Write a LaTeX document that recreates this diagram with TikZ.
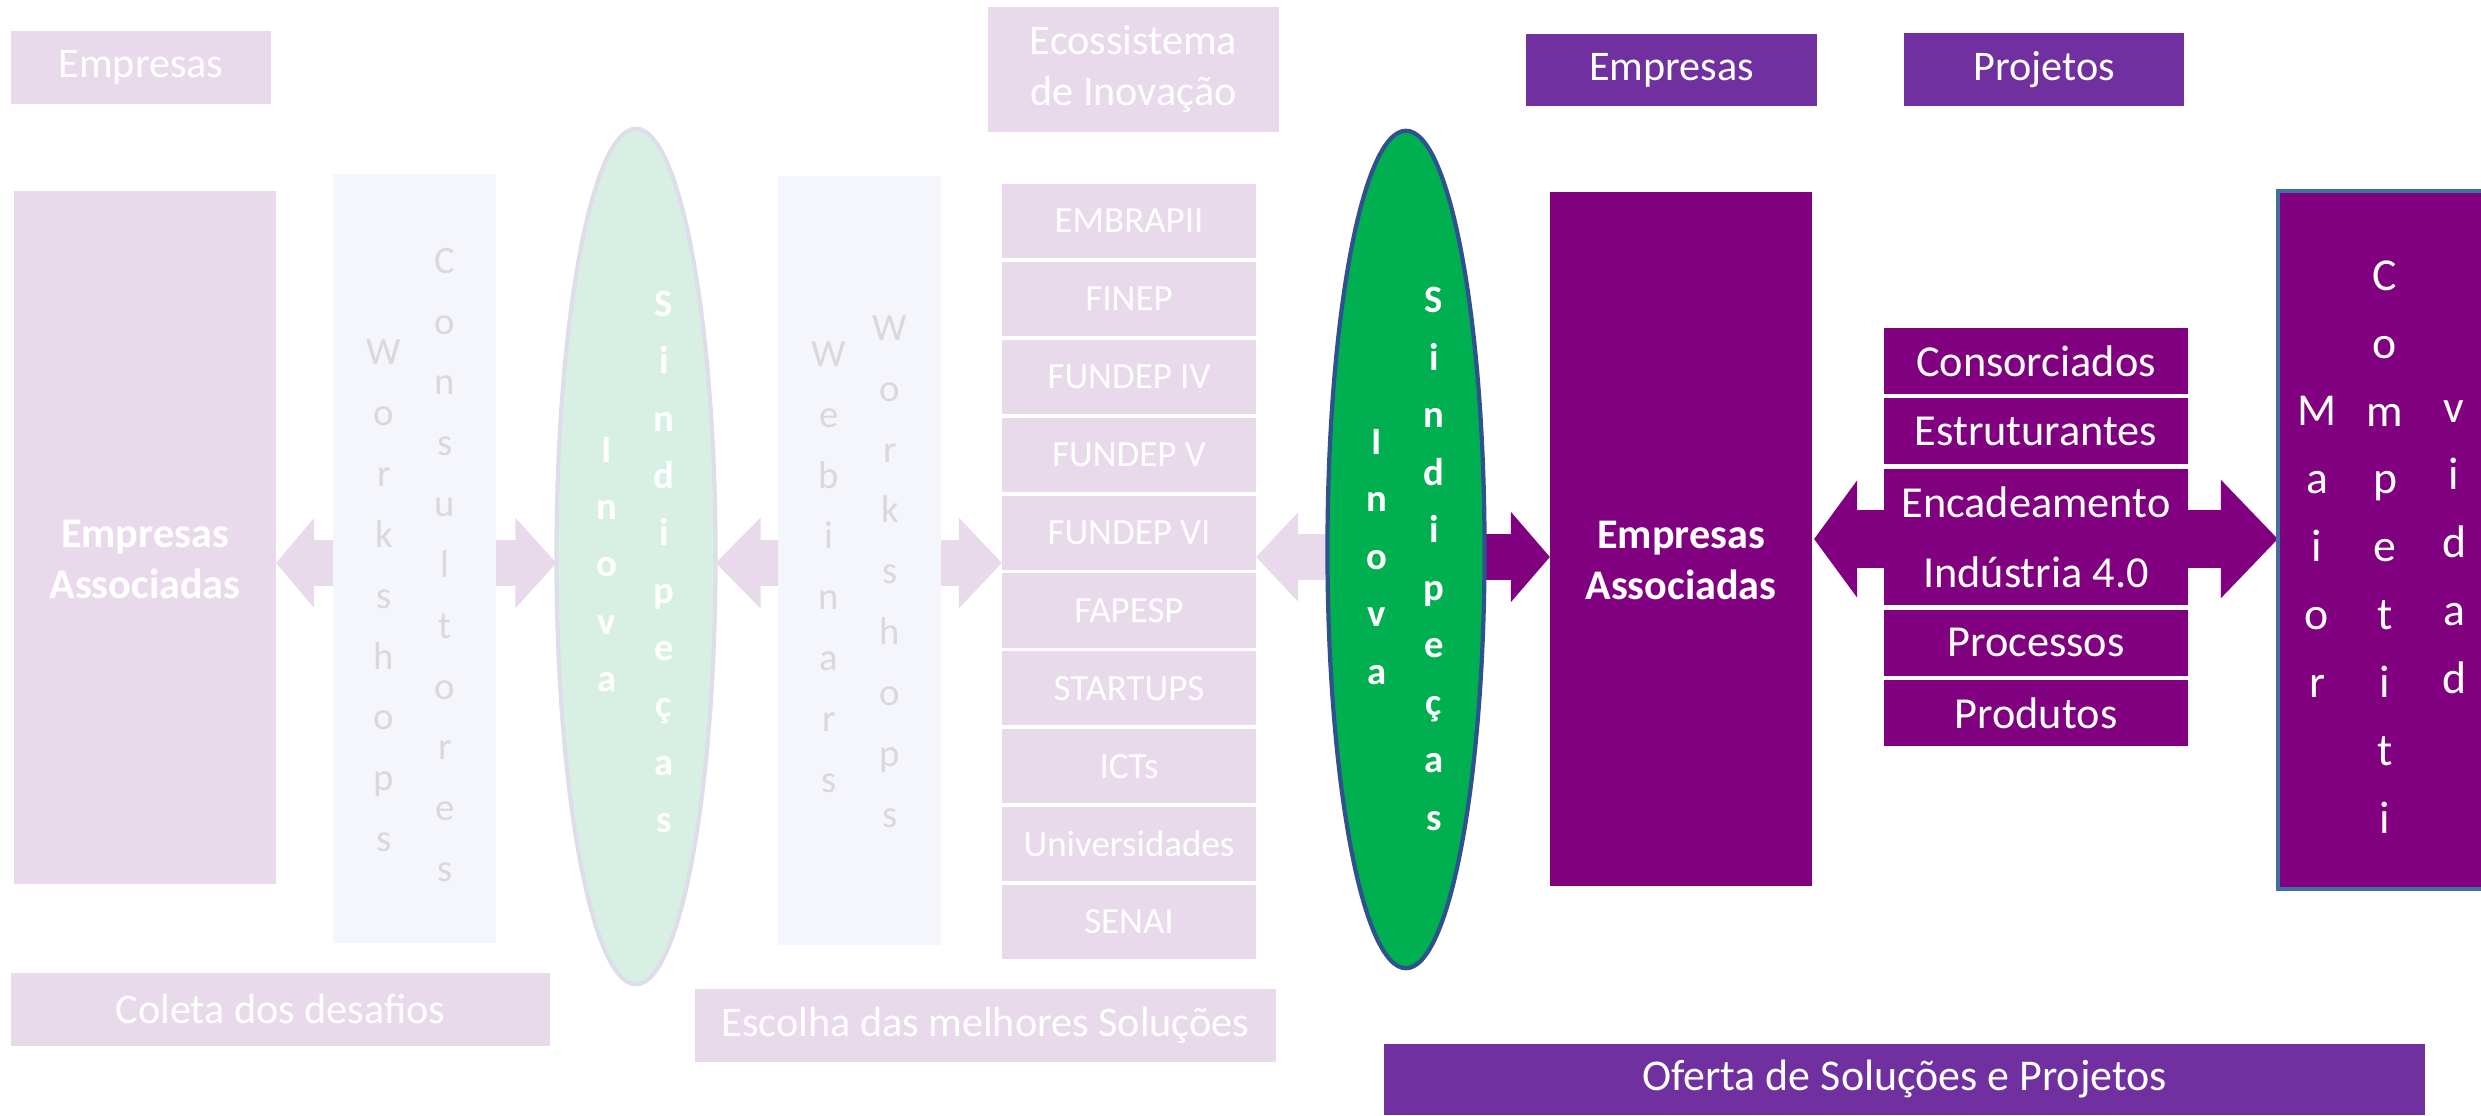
\documentclass[tikz,border=0pt]{standalone}
\usepackage{fontspec}
\setmainfont{Carlito}
\usetikzlibrary{arrows.meta,backgrounds,shapes.geometric}

\definecolor{fadepink}{HTML}{E8DAEB}
\definecolor{fadelilac}{HTML}{F5F5FC}
\definecolor{fadegray}{HTML}{D9D9D9}
\definecolor{fadegreen}{HTML}{D8F0E3}
\definecolor{fadeline}{HTML}{DDDEEA}
\definecolor{deepplum}{HTML}{800080}
\definecolor{royalviolet}{HTML}{7030A0}
\definecolor{sindigreen}{HTML}{00B050}
\definecolor{sindiline}{HTML}{2F528F}
\definecolor{mcline}{HTML}{41719C}

\tikzset{
  box/.style={rectangle, inner sep=0pt, outer sep=0pt, text=white, align=center,
    font=\fontsize{12}{14.5}\selectfont},
  fadebox/.style={box, fill=fadepink},
  plumbox/.style={box, fill=deepplum},
  violetbox/.style={box, fill=royalviolet},
  lilacbox/.style={box, fill=fadelilac},
  stackbox/.style={box, minimum width=2.54cm, minimum height=0.74cm, fill=fadepink,
    font=\fontsize{10.5}{12}\selectfont},
  offerbox/.style={box, minimum width=3.04cm, minimum height=0.66cm, fill=deepplum,
    font=\fontsize{12.6}{15}\selectfont},
  boldtext/.style={align=center, inner sep=0pt, text=white,
    font=\bfseries\fontsize{12}{14.5}\selectfont},
  oval/.style={ellipse, inner sep=0pt, outer sep=0pt, line width=1.2pt},
  letters/.style={align=center, inner sep=0pt, font=\fontsize{11}{17.3}\selectfont},
  boldletters/.style={align=center, inner sep=0pt, text=white,
    font=\bfseries\fontsize{11}{16.3}\selectfont},
  fatarrow/.style={line width=0.45cm},
}

\begin{document}
\begin{tikzpicture}[x=0.01cm, y=-0.01cm]
\useasboundingbox (0,0) rectangle (2481,1116);
\clip (0,0) rectangle (2481,1116);

% first stage: collecting the challenges
\node[fadebox, minimum width=2.6cm, minimum height=0.73cm] (emp1) at (141,67.5) {Empresas};
\node[fadebox, minimum width=2.62cm, minimum height=6.93cm] (ea1) at (145,537.5) {};
\node[boldtext] (ea1t) at ([yshift=-0.22cm]ea1.center) {Empresas\\Associadas};
\node[lilacbox, minimum width=1.63cm, minimum height=7.69cm] (ws1) at (414.5,558.5) {};
\node[letters, text=fadegray] (wk1) at (384,596) {W\\o\\r\\k\\s\\h\\o\\p\\s};
\node[letters, text=fadegray] (cs1) at (445,565) {C\\o\\n\\s\\u\\l\\t\\o\\r\\e\\s};
\node[oval, fill=fadegreen, draw=fadeline, minimum width=1.59cm, minimum height=8.55cm] (ino1) at (636,556.5) {};
\node[boldletters] (iv1) at (607,564.5) {I\\n\\o\\v\\a};
\node[boldletters] (sp1) at (664,562) {S\\i\\n\\d\\i\\p\\e\\ç\\a\\s};
\node[fadebox, minimum width=5.39cm, minimum height=0.73cm] (col) at (280.5,1009.5) {Coleta dos desafios};

% second stage: innovation ecosystem
\node[fadebox, minimum width=2.91cm, minimum height=1.25cm] (eco) at (1133.5,69.5) {Ecossistema\\de Inovação};
\node[lilacbox, minimum width=1.63cm, minimum height=7.69cm] (ws2) at (859.5,560.5) {};
\node[letters, text=fadegray] (wb2) at (829,567) {W\\e\\b\\i\\n\\a\\r\\s};
\node[letters, text=fadegray] (wk2) at (890,571.5) {W\\o\\r\\k\\s\\h\\o\\p\\s};
\node[stackbox] (st1) at (1129,221) {EMBRAPII};
\node[stackbox] (st2) at (1129,298.9) {FINEP};
\node[stackbox] (st3) at (1129,376.8) {FUNDEP IV};
\node[stackbox] (st4) at (1129,454.7) {FUNDEP V};
\node[stackbox] (st5) at (1129,532.6) {FUNDEP VI};
\node[stackbox] (st6) at (1129,610.5) {FAPESP};
\node[stackbox] (st7) at (1129,688.4) {STARTUPS};
\node[stackbox] (st8) at (1129,766.3) {ICTs};
\node[stackbox] (st9) at (1129,844.2) {Universidades};
\node[stackbox] (st10) at (1129,922.1) {SENAI};
\node[fadebox, minimum width=5.81cm, minimum height=0.73cm] (esc) at (985.5,1025.5) {Escolha das melhores Soluções};

% third stage: offer of solutions
\node[oval, fill=sindigreen, draw=sindiline, minimum width=1.57cm, minimum height=8.37cm] (ino2) at (1406,549.5) {};
\node[boldletters, font=\bfseries\fontsize{11}{16.35}\selectfont] (iv2) at (1377,557) {I\\n\\o\\v\\a};
\node[boldletters, font=\bfseries\fontsize{11}{16.35}\selectfont] (sp2) at (1434,559) {S\\i\\n\\d\\i\\p\\e\\ç\\a\\s};
\node[violetbox, minimum width=2.91cm, minimum height=0.72cm] (emp2) at (1671.5,70) {Empresas};
\node[violetbox, minimum width=2.8cm, minimum height=0.73cm] (proj) at (2044,69.5) {Projetos};
\node[plumbox, minimum width=2.62cm, minimum height=6.94cm] (ea2) at (1681,539) {};
\node[boldtext] (ea2t) at ([yshift=-0.21cm]ea2.center) {Empresas\\Associadas};
\node[offerbox] (of1) at (2036,361) {Consorciados};
\node[offerbox] (of2) at (2036,431.4) {Estruturantes};
\node[offerbox] (of3) at (2036,501.8) {Encadeamento};
\node[offerbox] (of4) at (2036,572.2) {Indústria 4.0};
\node[offerbox] (of5) at (2036,642.6) {Processos};
\node[offerbox] (of6) at (2036,713) {Produtos};
\node[plumbox, draw=mcline, line width=1pt, minimum width=3cm, minimum height=6.98cm] (mc) at (2428,540) {};
\node[letters, text=white, font=\fontsize{13}{19.3}\selectfont] (mc1) at (2317,547) {M\\a\\i\\o\\r};
\node[letters, text=white, font=\fontsize{13}{19.3}\selectfont] (mc2) at (2385,547) {C\\o\\m\\p\\e\\t\\i\\t\\i};
\node[letters, text=white, font=\fontsize{13}{19.3}\selectfont] (mc3) at (2454,547) {v\\i\\d\\a\\d};
\node[violetbox, minimum width=10.41cm, minimum height=0.71cm, font=\fontsize{12.5}{15}\selectfont] (ofe) at (1904.5,1079.5) {Oferta de Soluções e Projetos};

\coordinate (row1) at (636,563);
\coordinate (row2) at (1406,557);

% block arrows sit behind the boxes
\begin{scope}[on background layer]
\draw[fatarrow, fadepink, {Triangle[length=0.38cm,width=0.88cm]}-{Triangle[length=0.41cm,width=0.88cm]}] (row1 -| ea1.east) -- (row1 -| ino1.west);
\draw[fatarrow, fadepink, {Triangle[length=0.45cm,width=0.88cm]}-{Triangle[length=0.43cm,width=0.88cm]}] (row1 -| ino1.east) -- (row1 -| st1.west);
\draw[fatarrow, fadepink, -{Triangle[length=0.42cm,width=0.87cm]}] (row2) -- (row2 -| st5.east);
\draw[fatarrow, deepplum, -{Triangle[length=0.39cm,width=0.88cm]}] (row2) -- (row2 -| ea2.west);
\draw[line width=0.57cm, deepplum, {Triangle[length=0.43cm,width=1.15cm]}-{Triangle[length=0.57cm,width=1.15cm]}] ([xshift=0.02cm]ea2.east) -- (ea2.east -| mc.west);
\end{scope}
\end{tikzpicture}
\end{document}
